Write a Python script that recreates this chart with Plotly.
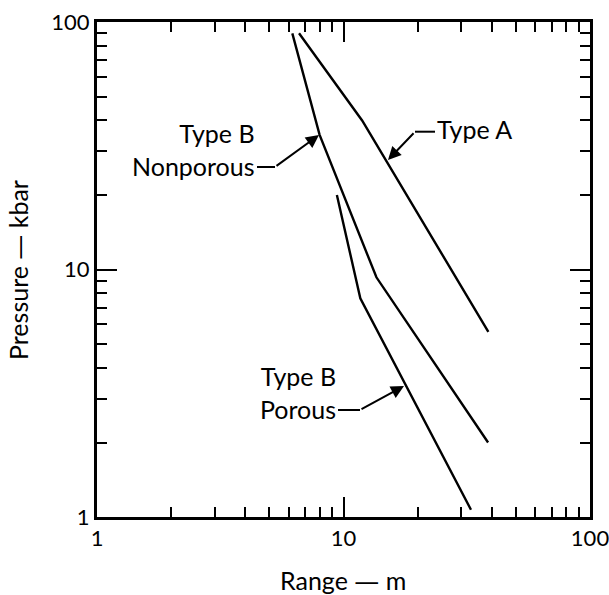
import plotly.graph_objects as go

# ---- data ----
type_a_range = [6.6, 11.9, 38.7]
type_a_pressure = [90, 40, 5.6]

nonporous_range = [6.2, 8.0, 13.6, 38.6]
nonporous_pressure = [90, 35, 9.3, 2.0]

porous_range = [9.4, 11.7, 32.9]
porous_pressure = [20, 7.65, 1.07]

x_tick_vals = [1, 10, 100]
x_tick_text = ["1", "10", "100"]
y_tick_vals = [1, 10, 100]
y_tick_text = ["1", "10", "100"]

FONT = "Lato"
FS = 25
TICK_FS = 22

# plot-area geometry in pixels (for placing annotations)
L, R, T, B = 97, 590, 22, 517
W, H = 609, 595


def px(x):
    return (x - L) / (R - L)


def py(y):
    return (B - y) / (B - T)


fig = go.Figure()
for xs, ys in [(type_a_range, type_a_pressure),
               (nonporous_range, nonporous_pressure),
               (porous_range, porous_pressure)]:
    fig.add_trace(go.Scatter(x=xs, y=ys, mode="lines",
                             line=dict(color="black", width=2.4),
                             showlegend=False, hoverinfo="skip"))

axis_common = dict(
    type="log",
    automargin=False,
    showgrid=False,
    zeroline=False,
    showline=True,
    linecolor="black",
    linewidth=3,
    mirror="allticks",
    ticks="inside",
    ticklen=20,
    tickwidth=2,
    tickcolor="black",
    ticklabeloverflow="allow",
    tickfont=dict(family=FONT, size=TICK_FS, color="black"),
    minor=dict(ticks="inside", ticklen=10, tickwidth=2, tickcolor="black",
               dtick="D1", showgrid=False),
)

fig.update_xaxes(range=[0, 2], tickvals=x_tick_vals, ticktext=x_tick_text,
                 **axis_common)
fig.update_yaxes(range=[0, 2], tickvals=y_tick_vals, ticktext=y_tick_text,
                 **axis_common)

annotations = []
tfont = dict(family=FONT, size=FS, color="black")
DASH = "<span style='font-family:DejaVu Sans'>—</span>"

# axis titles
annotations.append(dict(text="Range " + DASH + " m", xref="paper", yref="paper",
                        x=px(343), y=py(580), xanchor="center",
                        yanchor="middle", showarrow=False, font=tfont))
annotations.append(dict(text="Pressure " + DASH + " kbar", xref="paper",
                        yref="paper", x=px(18), y=py(270), xanchor="center",
                        yanchor="middle", textangle=-90, showarrow=False,
                        font=tfont))

# labels
annotations.append(dict(text="Type A", xref="paper", yref="paper",
                        x=px(435), y=py(129), xanchor="left",
                        yanchor="middle", showarrow=False, font=tfont))
annotations.append(dict(text="Type B<br>Nonporous", xref="paper", yref="paper",
                        x=px(257), y=py(149), xanchor="right", align="right",
                        yanchor="middle", showarrow=False, font=tfont))
annotations.append(dict(text="Type B<br>Porous", xref="paper", yref="paper",
                        x=px(338), y=py(393), xanchor="right", align="right",
                        yanchor="middle", showarrow=False, font=tfont))

# arrows (tip, tail offset in pixels)
for tip, tail in [((388, 160), (415, 131.7)),
                  ((319, 135), (275, 167)),
                  ((404, 386), (360, 410))]:
    annotations.append(dict(text="", xref="paper", yref="paper",
                            x=px(tip[0]), y=py(tip[1]),
                            ax=tail[0] - tip[0], ay=tail[1] - tip[1],
                            showarrow=True, arrowhead=2, arrowsize=1.3,
                            arrowwidth=2, arrowcolor="black", standoff=0))

shapes = []
for (x0, x1, y) in [(415, 435, 131.7), (257, 275, 167), (338, 360, 410)]:
    shapes.append(dict(type="line", xref="paper", yref="paper",
                       x0=px(x0), x1=px(x1), y0=py(y), y1=py(y),
                       line=dict(color="black", width=2)))

fig.update_layout(
    width=W, height=H,
    margin=dict(l=L, r=W - R, t=T, b=H - B, autoexpand=False),
    paper_bgcolor="white",
    plot_bgcolor="white",
    annotations=annotations,
    shapes=shapes,
    font=dict(family=FONT, size=FS, color="black"),
)

fig.write_html("out.html",
               config={"displayModeBar": False},
               post_script="document.body.style.margin='0';"
                           "document.body.style.overflow='hidden';")
